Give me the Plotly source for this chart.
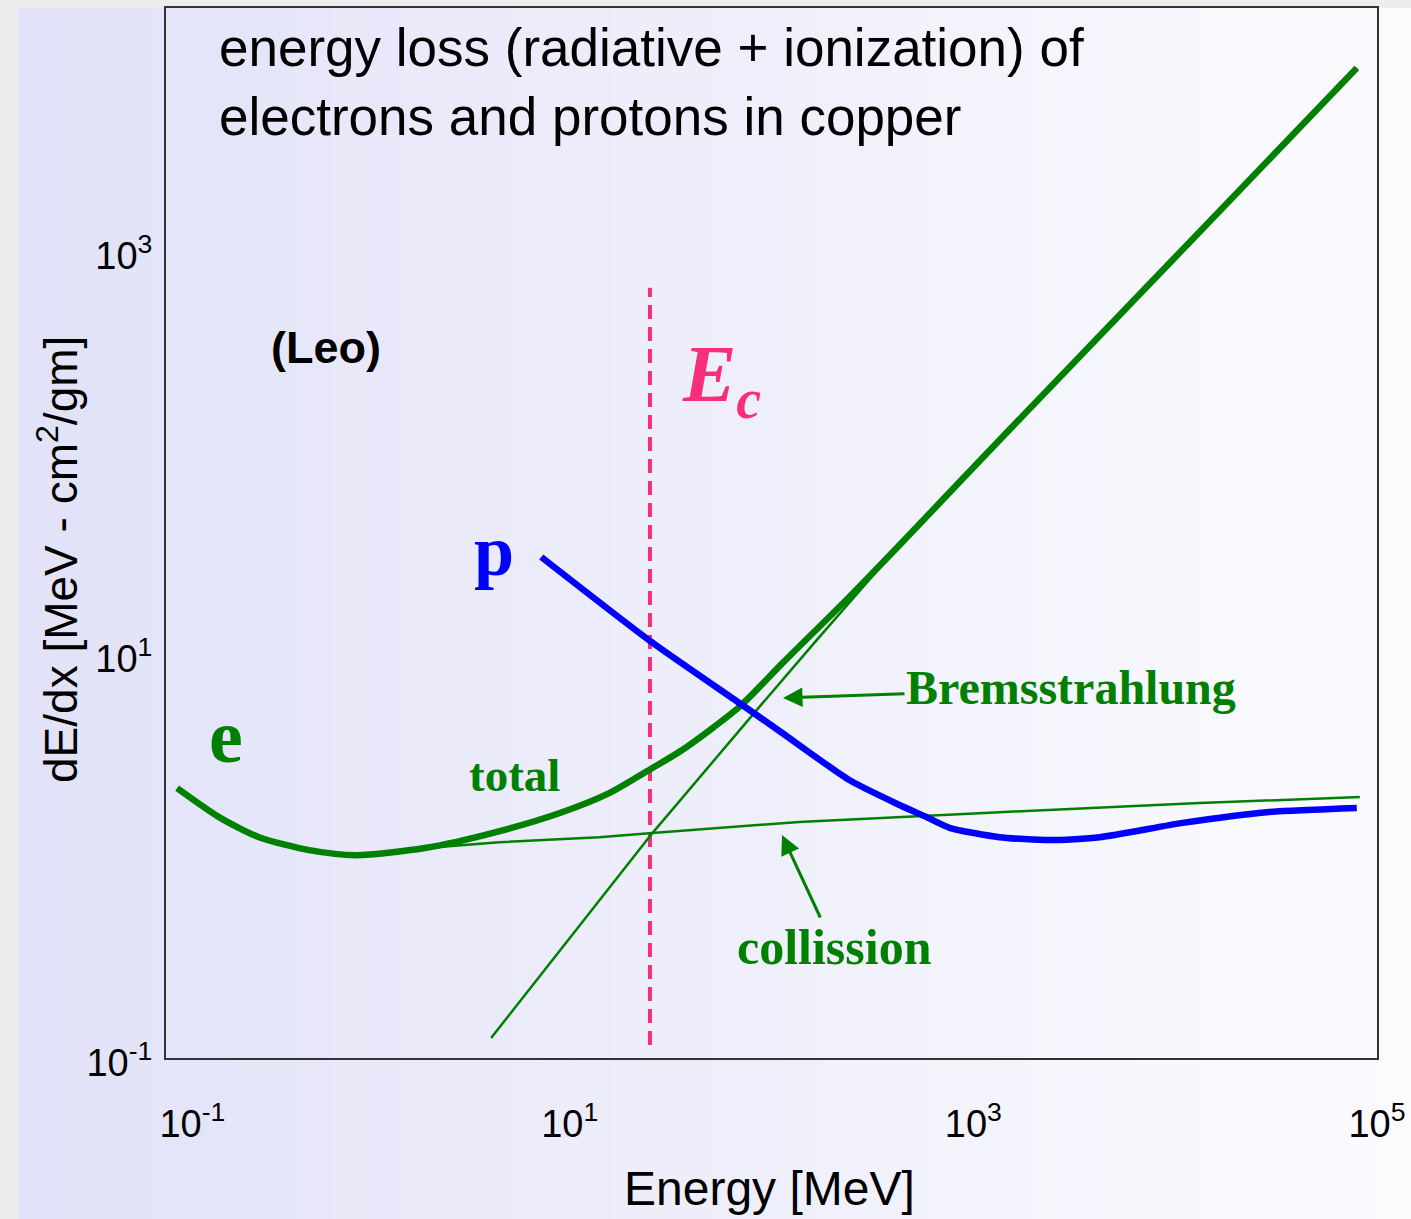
import plotly.graph_objects as go

# ---------------- data ----------------
# electron total energy loss: energy (MeV) -> dE/dx (MeV cm^2/g)
e_total_E = [0.1135, 0.183, 0.289, 0.512, 0.875, 1.95, 4.13, 8.87, 15.7, 25.7, 36.1,
             69.3, 113, 243, 431, 1349, 13200, 79400]
e_total_V = [2.17, 1.56, 1.24, 1.07, 1.01, 1.10, 1.30, 1.63, 2.05, 2.73, 3.35,
             5.48, 9.0, 19.2, 34.7, 115, 1233, 8000]

# electron Bremsstrahlung loss
brems_E = [4.08, 25.7, 87.1, 167, 431, 1349, 13200, 79400]
brems_V = [0.1256, 1.30, 5.48, 11.7, 34.7, 115, 1233, 8000]

# electron collision loss
coll_E = [0.875, 2.01, 4.48, 14.0, 25.7, 137, 1349, 13200, 82200]
coll_V = [1.01, 1.10, 1.17, 1.24, 1.30, 1.476, 1.65, 1.83, 1.96]

# proton energy loss
proton_E = [7.23, 25.7, 69.3, 113, 243, 431, 586, 762, 1349, 2388, 4227, 10900, 28400, 79400]
proton_V = [30.3, 11.4, 5.73, 4.07, 2.38, 1.79, 1.56, 1.38, 1.24, 1.20, 1.24, 1.46, 1.65, 1.73]

# critical energy marker
Ec = 25.0
Ec_span = [0.116, 652]

# axis ticks
x_tickvals = [0.1, 10, 1000, 100000]
x_ticktext = ["\u00a0\u00a0\u00a0\u00a0\u00a010<sup>-1</sup>", "10<sup>1</sup>", "10<sup>3</sup>", "10<sup>5</sup>"]
y_tickvals = [0.1, 10, 1000]
y_ticktext = ["10<sup>-1</sup>", "10<sup>1</sup>", "10<sup>3</sup>"]

GREEN = "#008000"
BLUE = "#0000ff"
PINK = "#f72f78"
SERIF = "Liberation Serif, Times New Roman, serif"
SANS = "Liberation Sans, Arial, sans-serif"

fig = go.Figure()

fig.add_trace(go.Scatter(x=[Ec, Ec], y=Ec_span, mode="lines",
                         line=dict(color=PINK, width=4, dash="14px,8px"),
                         showlegend=False, hoverinfo="skip", name="Ec"))
fig.add_trace(go.Scatter(x=coll_E, y=coll_V, mode="lines",
                         line=dict(color=GREEN, width=2.5), showlegend=False, name="collision"))
fig.add_trace(go.Scatter(x=brems_E, y=brems_V, mode="lines",
                         line=dict(color=GREEN, width=2.5), showlegend=False, name="Bremsstrahlung"))
fig.add_trace(go.Scatter(x=e_total_E, y=e_total_V, mode="lines",
                         line=dict(color=GREEN, width=6.5, shape="spline", smoothing=0.7),
                         showlegend=False, name="e total"))
fig.add_trace(go.Scatter(x=proton_E, y=proton_V, mode="lines",
                         line=dict(color=BLUE, width=6.5, shape="spline", smoothing=0.6),
                         showlegend=False, name="p"))

# ---------------- background gradient ----------------
L, R, T, B = 166, 1377, 8, 1058
W, H = 1411, 1219
def px(xp):
    return (xp - L) / (R - L)
def py(yp):
    return (B - yp) / (B - T)

shapes = []
N = 40
c0 = (226, 226, 248)
c1 = (251, 251, 254)
for i in range(N):
    a = 18 + (W - 18) * i / N
    b = 18 + (W - 18) * (i + 1) / N + 1
    t = i / (N - 1)
    col = "rgb(%d,%d,%d)" % tuple(round(c0[k] + (c1[k] - c0[k]) * t) for k in range(3))
    shapes.append(dict(type="rect", xref="paper", yref="paper", layer="below",
                       x0=px(a), x1=px(b), y0=py(H + 2), y1=py(T),
                       fillcolor=col, line=dict(width=0)))

# ---------------- annotations ----------------
def label(xp, yp, text, size, color, family, xanchor="center"):
    return dict(xref="paper", yref="paper", x=px(xp), y=py(yp), xanchor=xanchor, yanchor="middle",
                text=text, showarrow=False, align="left",
                font=dict(family=family, size=size, color=color))

ann = [
    label(217, 82, "energy loss (radiative + ionization) of<br>electrons and protons in copper",
          53, "black", SANS, xanchor="left"),
    label(326, 348, "<b>(Leo)</b>", 45, "black", SANS),
    label(226, 736, "<b>e</b>", 76, GREEN, SERIF),
    label(494, 551, "<b>p</b>", 72, BLUE, SERIF),
    label(514, 775, "<b>total</b>", 47, GREEN, SERIF),
    label(680, 380, "<b><i>E</i></b><sub><b><i>c</i></b></sub>", 80, PINK, SERIF, xanchor="left"),
    # axis titles
    label(769, 1188, "Energy [MeV]", 48, "black", SANS),
]
ann.append(dict(xref="paper", yref="paper", x=px(58), y=py(560), xanchor="center", yanchor="middle",
                text="dE/dx [MeV - cm<sup>2</sup>/gm]", textangle=-90, showarrow=False,
                font=dict(family=SANS, size=46, color="black")))
# labelled arrows (head given in log10 data units)
ann.append(dict(x=2.057, y=0.783, xref="x", yref="y", text="<b>Bremsstrahlung</b>",
                showarrow=True, ax=1071 - 783, ay=688 - 698,
                arrowhead=2, arrowsize=1.3, arrowwidth=3, arrowcolor=GREEN, standoff=0,
                font=dict(family=SERIF, size=48, color=GREEN)))
ann.append(dict(x=2.052, y=0.1044, xref="x", yref="y", text="<b>collission</b>",
                showarrow=True, ax=834 - 782, ay=947 - 835,
                arrowhead=2, arrowsize=1.3, arrowwidth=3, arrowcolor=GREEN, standoff=0,
                font=dict(family=SERIF, size=50, color=GREEN)))

fig.update_layout(
    width=W, height=H,
    margin=dict(l=L, r=W - R, t=T, b=H - B),
    paper_bgcolor="#ececec",
    plot_bgcolor="rgba(0,0,0,0)",
    shapes=shapes,
    annotations=ann,
    showlegend=False,
    font=dict(family=SANS, color="black"),
)
fig.update_xaxes(type="log", range=[-1, 5], tickvals=x_tickvals, ticktext=x_ticktext,
                 showgrid=False, zeroline=False, showline=True, mirror=True,
                 linecolor="#333", linewidth=2, ticks="",
                 tickfont=dict(size=38, family=SANS),
                 ticklabelstandoff=31, automargin=False)
fig.update_yaxes(type="log", range=[-1, 4.2], tickvals=y_tickvals, ticktext=y_ticktext,
                 showgrid=False, zeroline=False, showline=True, mirror=True,
                 linecolor="#333", linewidth=2, ticks="",
                 tickfont=dict(size=38, family=SANS),
                 ticklabelstandoff=4, ticklabelshift=5, automargin=False)

fig.write_html("out.html",
               config={"displayModeBar": False},
               post_script="document.body.style.margin='0px';document.body.style.background='#ececec';")
